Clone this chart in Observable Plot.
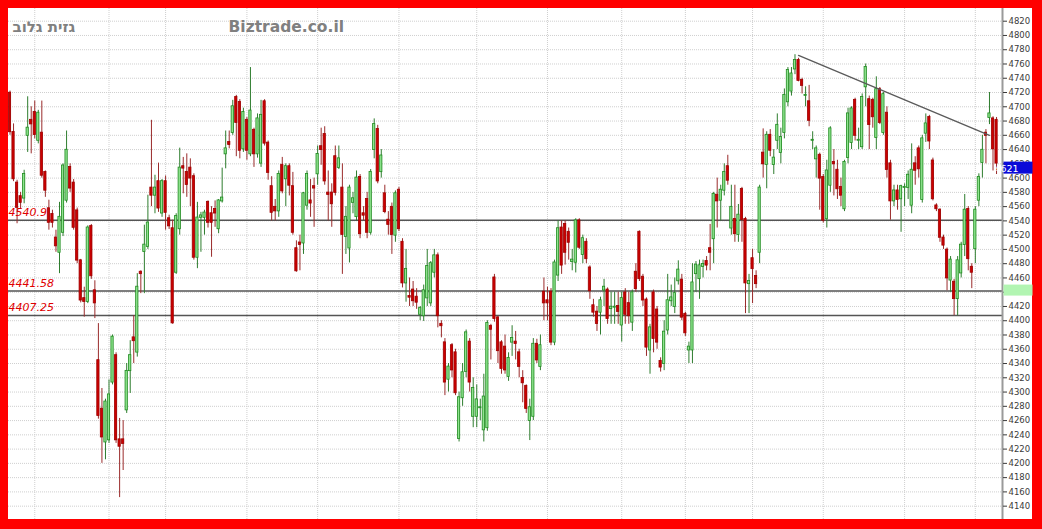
<!DOCTYPE html>
<html><head><meta charset="utf-8">
<script src="https://cdn.jsdelivr.net/npm/d3@7"></script>
<script src="https://cdn.jsdelivr.net/npm/@observablehq/plot@0.6"></script>
<style>
html,body{margin:0;padding:0;background:#ff0000;width:1042px;height:529px;overflow:hidden;}
#wrap{position:absolute;left:8px;top:8px;width:1024px;height:511px;background:#fff;}
svg{display:block;}
</style></head><body><div id="wrap"></div>
<script>
const open  = [4719,4664,4593,4574,4572,4660,4681,4692,4653,4663,4608,4557,4549,4516,4496,4524,4569,4615,4593,4554,4484,4431,4427,4532,4442,4344,4276,4230,4233,4314,4351,4233,4233,4275,4330,4376,4356,4468,4497,4504,4586,4576,4595,4551,4595,4543,4529,4468,4529,4616,4608,4614,4602,4489,4545,4545,4566,4550,4556,4529,4568,4634,4650,4664,4713,4706,4641,4681,4634,4667,
4634,4621,4707,4649,4588,4559,4554,4618,4599,4616,4588,4501,4509,4509,4562,4568,4588,4606,4644,4661,4579,4579,4630,4615,4586,4518,4502,4566,4546,4601,4550,4570,4524,4640,4668,4609,4578,4541,4559,4520,4583,4510,4453,4434,4443,4433,4409,4407,4432,4425,4468,4491,4395,4369,4318,4365,4355,4235,4292,4329,4370,4266,4266,4278,4247,4250,4392,4460,4404,4369,
4363,4322,4370,4370,4355,4319,4308,4260,4266,4367,4336,4440,4428,4440,4370,4464,4530,4535,4524,4483,4482,4540,4493,4510,4474,4421,4412,4412,4443,4443,4417,4419,4420,4394,4439,4424,4398,4468,4524,4461,4429,4359,4439,4415,4343,4340,4387,4428,4420,4456,4457,4409,4359,4359,4466,4459,4476,4483,4501,4515,4576,4569,4583,4616,4530,4542,4521,4584,4542,4452,
4487,4462,4496,4635,4619,4660,4619,4653,4636,4664,4707,4722,4753,4765,4737,4716,4707,4653,4627,4632,4601,4543,4590,4622,4611,4587,4557,4629,4650,4709,4653,4644,4728,4710,4709,4657,4724,4664,4691,4620,4568,4582,4571,4587,4587,4562,4620,4641,4570,4663,4685,4624,4561,4555,4516,4499,4457,4454,4431,4467,4507,4556,4475,4501,4569,4622,4663,4685,4683,4681];
const high  = [4722,4676,4597,4580,4611,4714,4700,4708,4695,4708,4610,4569,4555,4527,4566,4620,4666,4620,4598,4558,4486,4447,4533,4535,4456,4396,4305,4290,4317,4380,4355,4263,4260,4340,4372,4407,4466,4470,4534,4576,4681,4604,4621,4598,4603,4548,4541,4550,4642,4629,4634,4627,4606,4566,4552,4555,4568,4560,4568,4570,4614,4666,4666,4709,4716,4710,4698,4685,4755,4670,
4690,4709,4710,4652,4602,4570,4610,4629,4620,4620,4608,4512,4520,4580,4610,4598,4600,4645,4670,4672,4610,4592,4645,4645,4620,4560,4590,4580,4610,4605,4560,4580,4612,4683,4674,4640,4590,4553,4565,4582,4587,4515,4500,4460,4455,4445,4420,4450,4500,4483,4500,4495,4400,4375,4340,4368,4360,4300,4340,4387,4375,4320,4310,4290,4325,4400,4395,4465,4406,4372,
4380,4355,4393,4385,4360,4330,4310,4290,4375,4374,4380,4460,4447,4445,4485,4540,4540,4540,4530,4500,4543,4543,4520,4515,4477,4430,4420,4433,4458,4446,4440,4440,4440,4440,4445,4440,4443,4480,4526,4465,4432,4395,4443,4420,4348,4400,4465,4450,4460,4484,4465,4412,4370,4480,4483,4485,4485,4490,4535,4580,4600,4590,4620,4632,4590,4590,4563,4587,4545,4465,
4500,4470,4590,4669,4665,4668,4640,4690,4670,4725,4755,4755,4773,4768,4740,4728,4730,4665,4645,4635,4605,4625,4672,4640,4625,4600,4625,4698,4700,4712,4670,4718,4760,4715,4712,4742,4727,4720,4700,4625,4590,4590,4590,4592,4610,4648,4630,4645,4660,4690,4688,4628,4564,4557,4520,4502,4490,4458,4490,4510,4577,4560,4480,4560,4606,4660,4668,4720,4686,4685];
const low   = [4660,4595,4536,4557,4564,4636,4634,4655,4648,4600,4573,4527,4530,4496,4466,4518,4565,4580,4527,4480,4425,4405,4424,4458,4403,4262,4200,4205,4228,4310,4228,4152,4190,4270,4298,4340,4349,4438,4438,4500,4560,4550,4552,4545,4527,4528,4395,4465,4520,4578,4573,4560,4485,4473,4496,4520,4530,4489,4531,4522,4565,4613,4641,4660,4630,4627,4636,4625,4630,4615,
4628,4615,4645,4597,4540,4540,4545,4578,4560,4575,4520,4468,4470,4493,4555,4545,4531,4590,4618,4590,4540,4531,4575,4612,4465,4493,4481,4550,4540,4515,4540,4515,4520,4627,4592,4600,4550,4520,4493,4510,4525,4446,4426,4420,4420,4416,4400,4399,4420,4420,4460,4390,4376,4295,4300,4320,4295,4230,4280,4320,4300,4250,4250,4260,4230,4245,4345,4398,4340,4325,
4325,4315,4350,4345,4320,4285,4270,4232,4260,4340,4330,4400,4400,4365,4365,4455,4465,4478,4485,4470,4467,4500,4480,4480,4430,4405,4385,4380,4420,4395,4395,4395,4395,4370,4395,4395,4385,4440,4455,4420,4350,4325,4355,4360,4328,4330,4380,4420,4410,4450,4400,4378,4340,4340,4440,4430,4460,4470,4470,4480,4530,4540,4575,4590,4520,4510,4510,4510,4410,4410,
4424,4445,4480,4600,4585,4630,4605,4640,4620,4655,4700,4715,4745,4735,4718,4700,4672,4640,4600,4555,4537,4530,4580,4575,4570,4560,4553,4620,4640,4652,4640,4640,4700,4640,4670,4640,4675,4660,4600,4541,4560,4555,4524,4560,4570,4550,4590,4600,4565,4650,4640,4568,4553,4510,4500,4442,4440,4407,4407,4460,4490,4470,4445,4480,4560,4600,4620,4675,4610,4605];
const close = [4665,4599,4559,4566,4605,4670,4676,4661,4691,4604,4583,4538,4538,4505,4545,4617,4639,4586,4531,4485,4429,4427,4530,4463,4425,4267,4237,4286,4296,4377,4233,4224,4228,4329,4351,4372,4447,4466,4506,4537,4576,4586,4558,4595,4552,4533,4397,4546,4614,4614,4591,4600,4489,4544,4547,4551,4538,4538,4551,4568,4572,4641,4647,4700,4678,4639,4692,4639,4694,4634,
4683,4688,4649,4608,4552,4554,4605,4582,4616,4590,4524,4470,4507,4578,4605,4565,4586,4633,4640,4596,4577,4564,4580,4627,4521,4545,4586,4571,4600,4522,4548,4524,4608,4675,4596,4631,4553,4535,4521,4578,4529,4453,4472,4433,4428,4426,4417,4442,4476,4480,4491,4407,4393,4314,4335,4331,4299,4292,4327,4383,4314,4305,4289,4278,4293,4396,4388,4403,4358,4333,
4331,4347,4375,4368,4336,4313,4277,4278,4367,4345,4365,4425,4425,4370,4481,4529,4478,4496,4510,4485,4540,4503,4515,4487,4442,4412,4396,4428,4447,4403,4419,4419,4413,4431,4409,4407,4439,4445,4459,4429,4363,4390,4375,4370,4335,4384,4428,4432,4438,4471,4405,4383,4363,4453,4478,4477,4479,4478,4496,4577,4568,4583,4608,4597,4559,4522,4548,4542,4453,4455,
4473,4452,4586,4620,4660,4639,4628,4674,4657,4716,4751,4746,4765,4737,4730,4716,4681,4653,4641,4600,4541,4610,4669,4620,4585,4576,4622,4690,4697,4660,4653,4713,4755,4675,4686,4724,4678,4717,4612,4568,4582,4570,4588,4587,4604,4611,4611,4613,4655,4676,4652,4571,4557,4517,4506,4460,4485,4431,4484,4506,4555,4487,4468,4555,4601,4639,4660,4690,4641,4621];

const monthStarts = [7, 28, 44, 67, 87, 110, 132, 152, 173, 191, 210, 230, 253, 273];
const yTicks = d3.range(4140, 4821, 20);
const levels = [4540.9, 4441.58, 4407.25];
const levelLabels = ["4540.9", "4441.58", "4407.25"];
const trendIdx = [223, 277];
const trendVal = [4772, 4660];
const lastPrice = 4621;
const greenLevel = 4441.58;
const titleHe = "גזית גלוב";
const titleSite = "Biztrade.co.il";

const N = open.length;
const idx = d3.range(N);
const up = i => close[i] >= open[i];
const step = 3.536;
const xDomain = [-1.5 / step, (994 - 1.5) / step];

const chart = Plot.plot({
  width: 1024, height: 511,
  marginLeft: 0, marginRight: 30, marginTop: 0, marginBottom: 0,
  x: {domain: xDomain, axis: null},
  y: {domain: [4121.3, 4837.8], axis: null},
  style: {background: "#fff", fontFamily: "DejaVu Sans", overflow: "visible"},
  marks: [
    Plot.gridY(yTicks, {stroke: "#cfcfcf", strokeOpacity: 1, strokeDasharray: "1,1"}),
    Plot.gridX(monthStarts, {stroke: "#cfcfcf", strokeOpacity: 1, strokeDasharray: "1,1"}),
    Plot.ruleY(levels, {stroke: "#555", strokeWidth: 1.5}),
    Plot.ruleX(idx, {x: i => i, y1: i => low[i], y2: i => high[i],
      stroke: i => up(i) ? "#2e7d2e" : "#9a2b2b", strokeWidth: 1}),
    Plot.rect(idx, {x1: i => i - 0.32, x2: i => i + 0.32, y1: i => open[i], y2: i => close[i],
      insetTop: -0.5, insetBottom: -0.5,
      fill: i => up(i) ? "#8fe48f" : "#cc0000",
      stroke: i => up(i) ? "#1f8a1f" : "#9e0000", strokeWidth: 0.8}),
    Plot.line(trendIdx, {x: (d, k) => trendIdx[k], y: (d, k) => trendVal[k], stroke: "#5a5a5a", strokeWidth: 1.3}),
    Plot.text(levels, {y: d => d, text: (d, k) => levelLabels[k], frameAnchor: "left", dx: 0, dy: -8,
      textAnchor: "start", fill: "#e00000", fontStyle: "italic", fontSize: 11}),
    Plot.text([titleHe], {text: d => d, frameAnchor: "top-left", dx: 4, dy: 23, lineAnchor: "bottom",
      textAnchor: "start", fill: "#808080", fontSize: 15, fontWeight: "bold"}),
    Plot.text([titleSite], {text: d => d, frameAnchor: "top-left", dx: 220, dy: 23, lineAnchor: "bottom",
      textAnchor: "start", fill: "#808080", fontSize: 15.5, fontWeight: "bold"}),
    Plot.ruleX([xDomain[1]], {x: d => d, stroke: "#9a9a9a", strokeWidth: 2}),
    Plot.axisY(yTicks, {anchor: "right", tickFormat: "d", tickSize: 4, tickPadding: 2,
      fontSize: 8.5, color: "#3a3a3a", label: null})
  ]
});
document.getElementById("wrap").appendChild(chart);

const y = chart.scale("y");
const svg = d3.select(chart);
svg.append("rect").attr("x", 995.5).attr("y", y.apply(greenLevel) - 6).attr("width", 29).attr("height", 11).attr("fill", "#b2f5b2");
svg.append("rect").attr("x", 995.5).attr("y", y.apply(lastPrice) - 1).attr("width", 29).attr("height", 12).attr("fill", "#0a0ad8");
svg.append("text").attr("x", 998.5).attr("y", y.apply(lastPrice) + 9).attr("fill", "#fff")
  .attr("font-family", "DejaVu Sans").attr("font-size", 9.5).text(String(lastPrice));
</script>
</body></html>
